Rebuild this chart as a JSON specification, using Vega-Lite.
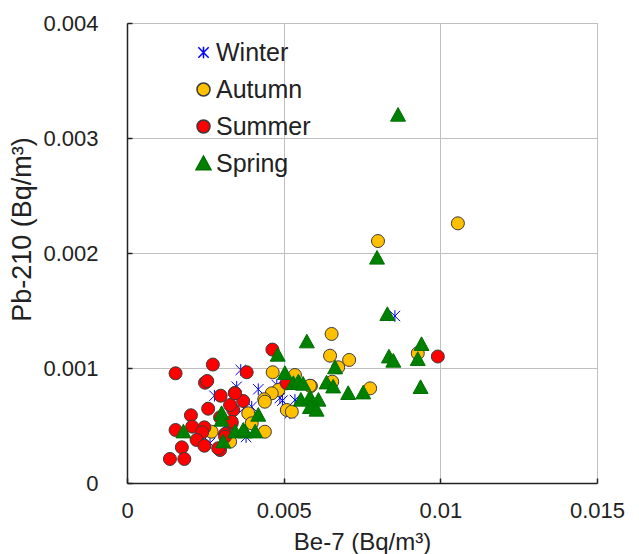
{
  "$schema": "https://vega.github.io/schema/vega-lite/v6.json",
  "width": 470,
  "height": 460,
  "autosize": "none",
  "padding": {"left": 127, "top": 23, "right": 42, "bottom": 71},
  "background": "white",
  "config": {
    "font": "Liberation Sans",
    "view": {"stroke": "#bfbfbf", "strokeWidth": 1},
    "axis": {"labelFontSize": 22, "titleFontSize": 25, "labelColor": "#222", "titleColor": "#222", "titleFontWeight": "normal", "gridColor": "#bfbfbf", "gridWidth": 1, "domainColor": "#222", "domainWidth": 1.5, "tickColor": "#222", "tickWidth": 1.5},
    "legend": {"orient": "none", "legendX": 64, "legendY": 17, "labelFontSize": 25, "labelColor": "#222", "symbolSize": 169, "labelOffset": 0, "rowPadding": 11, "padding": 0}
  },
  "data": {"values": [
    {"season": "Winter", "be7": 0.00363, "pb210": 0.000983},
    {"season": "Winter", "be7": 0.00855, "pb210": 0.001452},
    {"season": "Winter", "be7": 0.00419, "pb210": 0.000815},
    {"season": "Winter", "be7": 0.0035, "pb210": 0.000837},
    {"season": "Winter", "be7": 0.00279, "pb210": 0.000759},
    {"season": "Winter", "be7": 0.00496, "pb210": 0.000716},
    {"season": "Winter", "be7": 0.00536, "pb210": 0.000722},
    {"season": "Winter", "be7": 0.00478, "pb210": 0.000852},
    {"season": "Winter", "be7": 0.0052, "pb210": 0.000606},
    {"season": "Winter", "be7": 0.00398, "pb210": 0.000663},
    {"season": "Winter", "be7": 0.00265, "pb210": 0.000348},
    {"season": "Winter", "be7": 0.00373, "pb210": 0.000652},
    {"season": "Winter", "be7": 0.00316, "pb210": 0.000504},
    {"season": "Winter", "be7": 0.00488, "pb210": 0.000739},
    {"season": "Winter", "be7": 0.0038, "pb210": 0.0004},
    {"season": "Autumn", "be7": 0.01056, "pb210": 0.002258},
    {"season": "Autumn", "be7": 0.00801, "pb210": 0.002104},
    {"season": "Autumn", "be7": 0.00653, "pb210": 0.001296},
    {"season": "Autumn", "be7": 0.00648, "pb210": 0.001107},
    {"season": "Autumn", "be7": 0.00709, "pb210": 0.00107},
    {"season": "Autumn", "be7": 0.00674, "pb210": 0.001006},
    {"season": "Autumn", "be7": 0.00465, "pb210": 0.000963},
    {"season": "Autumn", "be7": 0.00536, "pb210": 0.000939},
    {"season": "Autumn", "be7": 0.00587, "pb210": 0.000843},
    {"season": "Autumn", "be7": 0.00655, "pb210": 0.000881},
    {"season": "Autumn", "be7": 0.00483, "pb210": 0.000809},
    {"season": "Autumn", "be7": 0.00462, "pb210": 0.00078},
    {"season": "Autumn", "be7": 0.00438, "pb210": 0.000728},
    {"season": "Autumn", "be7": 0.0051, "pb210": 0.000635},
    {"season": "Autumn", "be7": 0.00526, "pb210": 0.00062},
    {"season": "Autumn", "be7": 0.00387, "pb210": 0.000606},
    {"season": "Autumn", "be7": 0.00398, "pb210": 0.000519},
    {"season": "Autumn", "be7": 0.0044, "pb210": 0.000446},
    {"season": "Autumn", "be7": 0.0044, "pb210": 0.000707},
    {"season": "Autumn", "be7": 0.00329, "pb210": 0.000359},
    {"season": "Autumn", "be7": 0.0027, "pb210": 0.000446},
    {"season": "Autumn", "be7": 0.00776, "pb210": 0.000823},
    {"season": "Autumn", "be7": 0.00928, "pb210": 0.001128},
    {"season": "Autumn", "be7": 0.00584, "pb210": 0.000846},
    {"season": "Summer", "be7": 0.00155, "pb210": 0.000954},
    {"season": "Summer", "be7": 0.00274, "pb210": 0.00103},
    {"season": "Summer", "be7": 0.00249, "pb210": 0.000872},
    {"season": "Summer", "be7": 0.00256, "pb210": 0.000887},
    {"season": "Summer", "be7": 0.00299, "pb210": 0.000759},
    {"season": "Summer", "be7": 0.00344, "pb210": 0.000783},
    {"season": "Summer", "be7": 0.00371, "pb210": 0.000713},
    {"season": "Summer", "be7": 0.00259, "pb210": 0.000646},
    {"season": "Summer", "be7": 0.00204, "pb210": 0.000589},
    {"season": "Summer", "be7": 0.00382, "pb210": 0.000963},
    {"season": "Summer", "be7": 0.00155, "pb210": 0.000461},
    {"season": "Summer", "be7": 0.00208, "pb210": 0.00049},
    {"season": "Summer", "be7": 0.00247, "pb210": 0.000484},
    {"season": "Summer", "be7": 0.0024, "pb210": 0.000441},
    {"season": "Summer", "be7": 0.00222, "pb210": 0.000374},
    {"season": "Summer", "be7": 0.00247, "pb210": 0.000324},
    {"season": "Summer", "be7": 0.00175, "pb210": 0.00031},
    {"season": "Summer", "be7": 0.00137, "pb210": 0.000209},
    {"season": "Summer", "be7": 0.00183, "pb210": 0.000209},
    {"season": "Summer", "be7": 0.00297, "pb210": 0.000287},
    {"season": "Summer", "be7": 0.00313, "pb210": 0.000426},
    {"season": "Summer", "be7": 0.00339, "pb210": 0.000635},
    {"season": "Summer", "be7": 0.00297, "pb210": 0.000571},
    {"season": "Summer", "be7": 0.00334, "pb210": 0.000519},
    {"season": "Summer", "be7": 0.00464, "pb210": 0.00116},
    {"season": "Summer", "be7": 0.0051, "pb210": 0.000867},
    {"season": "Summer", "be7": 0.00992, "pb210": 0.0011},
    {"season": "Summer", "be7": 0.00329, "pb210": 0.000678},
    {"season": "Summer", "be7": 0.00334, "pb210": 0.000533},
    {"season": "Summer", "be7": 0.00345, "pb210": 0.00078},
    {"season": "Summer", "be7": 0.00291, "pb210": 0.000302},
    {"season": "Summer", "be7": 0.00313, "pb210": 0.000403},
    {"season": "Spring", "be7": 0.00865, "pb210": 0.0032},
    {"season": "Spring", "be7": 0.00798, "pb210": 0.001957},
    {"season": "Spring", "be7": 0.00574, "pb210": 0.001229},
    {"season": "Spring", "be7": 0.00831, "pb210": 0.001467},
    {"season": "Spring", "be7": 0.0094, "pb210": 0.001206},
    {"season": "Spring", "be7": 0.00836, "pb210": 0.001098},
    {"season": "Spring", "be7": 0.0085, "pb210": 0.001061},
    {"season": "Spring", "be7": 0.00928, "pb210": 0.001076},
    {"season": "Spring", "be7": 0.00937, "pb210": 0.000832},
    {"season": "Spring", "be7": 0.00481, "pb210": 0.001113},
    {"season": "Spring", "be7": 0.00504, "pb210": 0.000954},
    {"season": "Spring", "be7": 0.00664, "pb210": 0.001003},
    {"season": "Spring", "be7": 0.00531, "pb210": 0.000867},
    {"season": "Spring", "be7": 0.00547, "pb210": 0.000881},
    {"season": "Spring", "be7": 0.00562, "pb210": 0.000861},
    {"season": "Spring", "be7": 0.00637, "pb210": 0.000872},
    {"season": "Spring", "be7": 0.00658, "pb210": 0.000837},
    {"season": "Spring", "be7": 0.00706, "pb210": 0.00078},
    {"season": "Spring", "be7": 0.00754, "pb210": 0.000785},
    {"season": "Spring", "be7": 0.00555, "pb210": 0.000722},
    {"season": "Spring", "be7": 0.00584, "pb210": 0.000745},
    {"season": "Spring", "be7": 0.00611, "pb210": 0.000722},
    {"season": "Spring", "be7": 0.00584, "pb210": 0.000658},
    {"season": "Spring", "be7": 0.00605, "pb210": 0.000635},
    {"season": "Spring", "be7": 0.00419, "pb210": 0.000591},
    {"season": "Spring", "be7": 0.00345, "pb210": 0.000446},
    {"season": "Spring", "be7": 0.00377, "pb210": 0.000446},
    {"season": "Spring", "be7": 0.00409, "pb210": 0.000446},
    {"season": "Spring", "be7": 0.0018, "pb210": 0.000446},
    {"season": "Spring", "be7": 0.00302, "pb210": 0.000606},
    {"season": "Spring", "be7": 0.00302, "pb210": 0.000548},
    {"season": "Spring", "be7": 0.00307, "pb210": 0.000359},
    {"season": "Spring", "be7": 0.00371, "pb210": 0.000461}
  ]},
  "mark": {"type": "point", "filled": true, "size": 169, "strokeWidth": 1, "opacity": 1},
  "encoding": {
    "x": {"field": "be7", "type": "quantitative", "title": "Be-7 (Bq/m³)",
      "scale": {"domain": [0, 0.015], "nice": false},
      "axis": {"values": [0, 0.005, 0.01, 0.015], "format": ".3~g", "tickSize": -5, "labelPadding": 22, "titleFontSize": 24, "titleY": 66, "titleBaseline": "alphabetic", "labelFlush": false}},
    "y": {"field": "pb210", "type": "quantitative", "title": "Pb-210 (Bq/m³)",
      "scale": {"domain": [0, 0.004], "nice": false},
      "axis": {"values": [0, 0.001, 0.002, 0.003, 0.004], "format": ".3~g", "tickSize": -5, "labelPadding": 34, "titleFontSize": 27, "titleX": -91, "titleY": 206, "titleAlign": "center", "labelFlush": false}},
    "shape": {"field": "season", "type": "nominal", "title": null,
      "scale": {"domain": ["Winter", "Autumn", "Summer", "Spring"], "range": ["M0,-0.9L0,0.9M-0.8,-0.8L0.8,0.8M-0.8,0.8L0.8,-0.8", "circle", "circle", "M0,-1.15L1.15,0.95L-1.15,0.95Z"]}},
    "fill": {"field": "season", "type": "nominal", "title": null,
      "scale": {"domain": ["Winter", "Autumn", "Summer", "Spring"], "range": ["#0000ff", "#ffc000", "#ff0000", "#008000"]}},
    "stroke": {"field": "season", "type": "nominal", "title": null,
      "scale": {"domain": ["Winter", "Autumn", "Summer", "Spring"], "range": ["#0000ff", "#3a3a3a", "#3a3a3a", "#007000"]}}
  }
}
